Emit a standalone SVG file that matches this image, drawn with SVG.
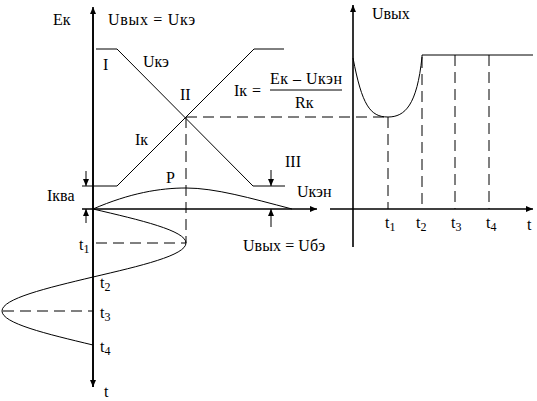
<svg xmlns="http://www.w3.org/2000/svg" width="537" height="401" viewBox="0 0 537 401">
<defs>
<style>
.ax{stroke:#000;stroke-width:1.6;fill:none}
.ln{stroke:#000;stroke-width:1;fill:none}
.dash{stroke:#000;stroke-width:1;fill:none;stroke-dasharray:11,6}
.t{font-family:'Liberation Serif','DejaVu Serif',serif;font-size:16px;fill:#000}
.s{font-size:12px}
</style>
<marker id="ah" markerWidth="8" markerHeight="8" refX="7" refY="4" orient="auto" markerUnits="userSpaceOnUse">
<path d="M0,1 L7,4 L0,7 Z" fill="#000"/>
</marker>
</defs>
<rect width="537" height="401" fill="#fff"/>

<g id="connectors">
<line class="ax" x1="93" y1="387" x2="93" y2="7" marker-end="url(#ah)"/>
<line class="ax" x1="93" y1="10" x2="93" y2="387" marker-end="url(#ah)"/>
<line class="ax" x1="82" y1="209" x2="317" y2="209" marker-end="url(#ah)"/>
<polyline class="ln" points="96,49 117,49 253,186 285,186"/>
<polyline class="ln" points="82,186 117,186 254,49 284,49"/>
<path class="ln" d="M93,209 C130,193 160,188 186,188 C215,188 250,198 292,209"/>
<path class="ln" d="M93,209 C140.6,220.1 186,230.7 186,243 C186,255.3 140.6,265.9 93,277 C46.4,288.1 2,298.7 2,311 C2,323.3 46.4,333.9 93,345"/>
<line class="dash" x1="186" y1="117" x2="388" y2="117"/>
<line class="dash" x1="186" y1="117" x2="186" y2="243"/>
<line class="dash" x1="96" y1="243" x2="186" y2="243"/>
<line class="dash" x1="3" y1="311" x2="93" y2="311"/>
<line class="ln" x1="86" y1="171" x2="86" y2="186" marker-end="url(#ah)"/>
<line class="ln" x1="86" y1="223" x2="86" y2="209" marker-end="url(#ah)"/>
<line class="ln" x1="271" y1="170" x2="271" y2="186" marker-end="url(#ah)"/>
<line class="ln" x1="271" y1="227" x2="271" y2="209" marker-end="url(#ah)"/>
<line class="ax" x1="353" y1="247" x2="353" y2="5" marker-end="url(#ah)"/>
<line class="ax" x1="330" y1="209" x2="533" y2="209" marker-end="url(#ah)"/>
<path class="ln" d="M353,58 C362,105 370,117 388,117 C405,117 417,105 422,57 L422,55 L533,55"/>
<line class="dash" x1="388" y1="117" x2="388" y2="209"/>
<line class="dash" x1="422" y1="57" x2="422" y2="209"/>
<line class="dash" x1="455" y1="55" x2="455" y2="209"/>
<line class="dash" x1="489" y1="55" x2="489" y2="209"/>
<line class="ln" x1="270" y1="90" x2="342" y2="90"/>
</g>

<g id="labels-left" class="t">
<text class="t" x="53" y="25">Eк</text>
<text class="t" x="108" y="25" textLength="87">Uвых = Uкэ</text>
<text class="t" x="103" y="70">I</text>
<text class="t" x="143" y="67">Uкэ</text>
<text class="t" x="180" y="100">II</text>
<text class="t" x="135" y="145">Iк</text>
<text class="t" x="285" y="167">III</text>
<text class="t" x="166" y="183">P</text>
<text class="t" x="47" y="201">Iква</text>
<text class="t" x="297" y="197">Uкэн</text>
<text class="t" x="243" y="251" textLength="82">Uвых = Uбэ</text>
<text class="t" x="79" y="250">t<tspan class="s" dy="3">1</tspan></text>
<text class="t" x="100" y="288">t<tspan class="s" dy="3">2</tspan></text>
<text class="t" x="100" y="318">t<tspan class="s" dy="3">3</tspan></text>
<text class="t" x="100" y="352">t<tspan class="s" dy="3">4</tspan></text>
<text class="t" x="104" y="397">t</text>
</g>

<g id="formula" class="t">
<text class="t" x="234" y="96">Iк</text>
<text class="t" x="252" y="96">=</text>
<text class="t" x="270" y="84" textLength="72">Eк – Uкэн</text>
<text class="t" x="295" y="108">Rк</text>
</g>

<g id="labels-right" class="t">
<text class="t" x="372" y="19">Uвых</text>
<text class="t" x="385" y="228">t<tspan class="s" dy="3">1</tspan></text>
<text class="t" x="416" y="228">t<tspan class="s" dy="3">2</tspan></text>
<text class="t" x="451" y="228">t<tspan class="s" dy="3">3</tspan></text>
<text class="t" x="486" y="228">t<tspan class="s" dy="3">4</tspan></text>
<text class="t" x="527" y="230">t</text>
</g>
</svg>
